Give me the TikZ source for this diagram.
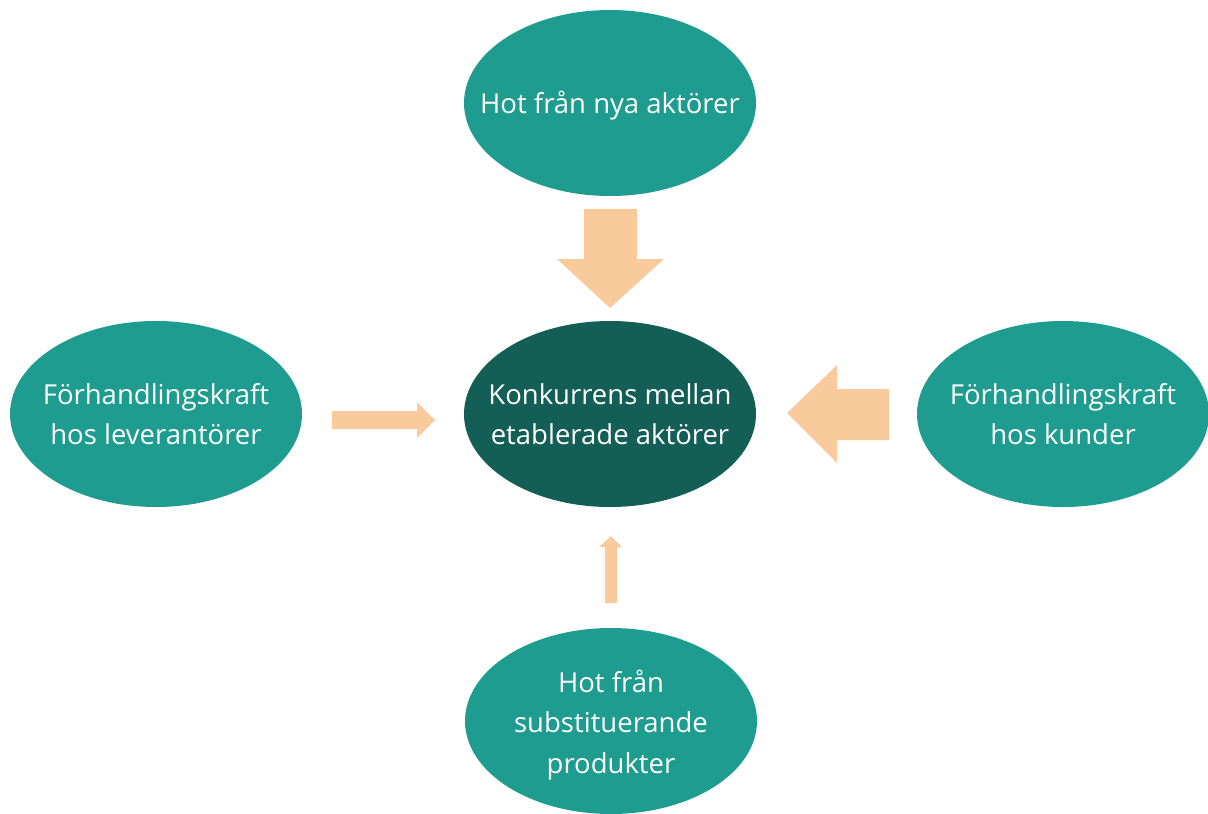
\documentclass[tikz,border=0pt]{standalone}
\usepackage{fontspec}
\setmainfont{Open Sans}
\usetikzlibrary{shapes.geometric}
\definecolor{forcefill}{RGB}{30,156,144}
\definecolor{corefill}{RGB}{19,94,85}
\definecolor{arrowfill}{RGB}{249,203,156}
\begin{document}
\begin{tikzpicture}[x=1pt,y=-1pt,
  caption/.style={text=white, align=center, inner sep=0pt,
    font=\fontsize{27.5}{40.5}\selectfont},
  force/.style={ellipse, fill=forcefill, minimum width=292pt, minimum height=186pt,
    inner sep=0pt},
  core/.style={force, fill=corefill},
  blockarrow/.style={fill=arrowfill, draw=none}]
\useasboundingbox (0,0) rectangle (1208,814);

% the five forces
\node[force, label={[caption, yshift=-3pt]center:Hot från nya aktörer}] (new) at (610,103) {};
\node[core, label={[caption]center:Konkurrens mellan\\etablerade aktörer}] (rival) at (610,414) {};
\node[force, label={[caption]center:Förhandlingskraft\\hos leverantörer}] (supp) at (156,414) {};
\node[force, label={[caption]center:Förhandlingskraft\\hos kunder}] (cust) at (1063,414) {};
\node[force, label={[caption, yshift=-4pt]center:Hot från\\substituerande\\produkter}] (subst) at (611,721) {};

% block arrows pointing at the core
\fill[blockarrow] (584,209) -- (637,209) -- (637,259) -- (664,259) -- (610,308)
  -- (557,259) -- (584,259) -- cycle;
\fill[blockarrow] (332,411) -- (417,411) -- (417,402) -- (435,420) -- (417,438)
  -- (417,429) -- (332,429) -- cycle;
\fill[blockarrow] (889,389) -- (837,389) -- (837,365) -- (787,413) -- (837,463)
  -- (837,440) -- (889,440) -- cycle;
\fill[blockarrow] (605,603) -- (605,547) -- (599,547) -- (611,536) -- (622,547)
  -- (617,547) -- (617,603) -- cycle;
\end{tikzpicture}
\end{document}
